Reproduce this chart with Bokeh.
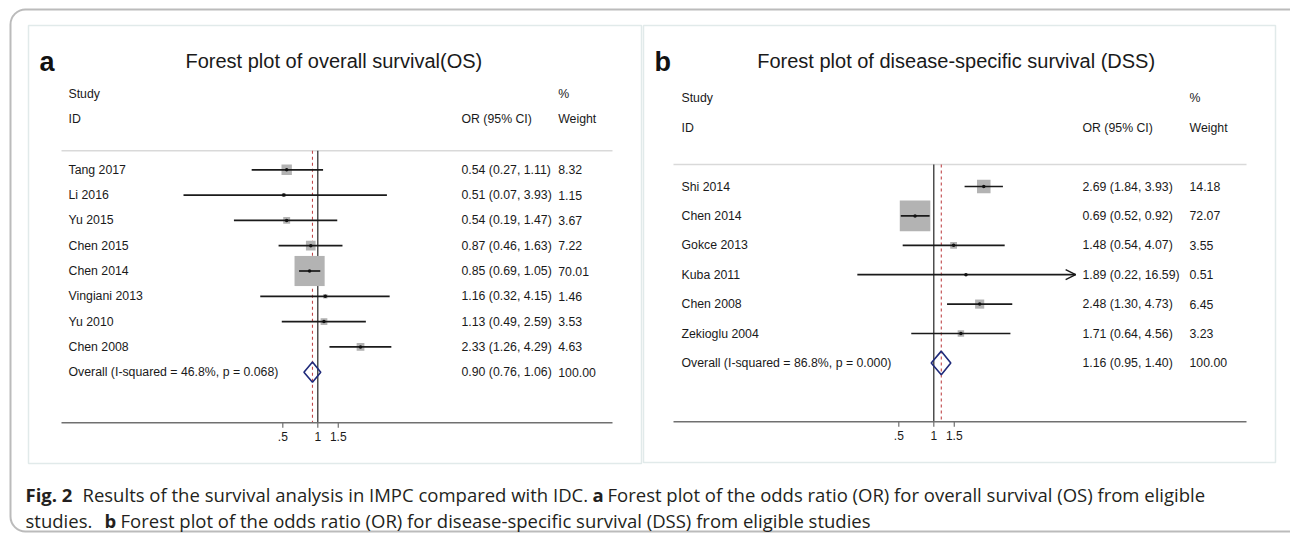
import math
from bokeh.plotting import figure
from bokeh.models import Range1d, LogScale, BoxAnnotation, Arrow, OpenHead
from bokeh.core.properties import value
from bokeh.embed import file_html
from bokeh.resources import INLINE

# ---------------- data ----------------
os_studies = ["Tang 2017", "Li 2016", "Yu 2015", "Chen 2015", "Chen 2014",
              "Vingiani 2013", "Yu 2010", "Chen 2008"]
os_or = [0.54, 0.51, 0.54, 0.87, 0.85, 1.16, 1.13, 2.33]
os_lo = [0.27, 0.07, 0.19, 0.46, 0.69, 0.32, 0.49, 1.26]
os_hi = [1.11, 3.93, 1.47, 1.63, 1.05, 4.15, 2.59, 4.29]
os_w = [8.32, 1.15, 3.67, 7.22, 70.01, 1.46, 3.53, 4.63]
os_overall = [0.90, 0.76, 1.06]
os_overall_label = "Overall (I-squared = 46.8%, p = 0.068)"
os_arrow = [False] * 8

dss_studies = ["Shi 2014", "Chen 2014", "Gokce 2013", "Kuba 2011", "Chen 2008",
               "Zekioglu 2004"]
dss_or = [2.69, 0.69, 1.48, 1.89, 2.48, 1.71]
dss_lo = [1.84, 0.52, 0.54, 0.22, 1.30, 0.64]
dss_hi = [3.93, 0.92, 4.07, 16.59, 4.73, 4.56]
dss_w = [14.18, 72.07, 3.55, 0.51, 6.45, 3.23]
dss_overall = [1.16, 0.95, 1.40]
dss_overall_label = "Overall (I-squared = 86.8%, p = 0.000)"
dss_arrow = [False, False, False, True, False, False]

tick_values = [0.5, 1, 1.5]
tick_labels = [".5", "1", "1.5"]

# ---------------- figure ----------------
W, H = 1290, 534
X0, Y0 = 0, 0  # data units of the default ranges = screenshot pixels
p = figure(width=W, height=H, output_backend="svg", toolbar_location=None,
           x_range=Range1d(X0, X0 + W), y_range=Range1d(Y0 + H, Y0),
           x_axis_location=None, y_axis_location=None, min_border=0)
p.outline_line_color = None
p.xgrid.visible = False
p.ygrid.visible = False
p.background_fill_color = "white"
p.border_fill_color = "white"

FONT = value("Liberation Sans")
CAPFONT = value("Open Sans")
K = 50.5  # pixels per ln unit of the OR axis

p.extra_x_ranges = {}
p.extra_x_scales = {}
p.extra_y_ranges = {}


def setup_ranges(name, x_one, row0, dy):
    p.extra_x_ranges[name] = Range1d(math.exp((X0 - x_one) / K), math.exp((X0 + W - x_one) / K))
    p.extra_x_scales[name] = LogScale()
    p.extra_y_ranges[name] = Range1d((Y0 + H - row0) / dy, (Y0 - row0) / dy)


def panel(name, letter, title, x_one, row0, dy, studies, est, lo, hi, wt,
          overall, overall_label, arrows, lab_x, ci_x, w_x, ax0, ax1,
          letter_x, title_x, box):
    setup_ranges(name, x_one, row0, dy)
    n = len(studies)
    rows = list(range(n))
    orow = n
    axrow = n + 2
    hdr_row = -0.75
    kw = dict(x_range_name=name, y_range_name=name)
    kwy = dict(y_range_name=name)

    # panel box
    p.quad(left=[box[0]], right=[box[1]], top=[box[2]], bottom=[box[3]],
           fill_color=None, line_color="#e1eaea", line_width=1.5)

    # titles
    p.text(x=[letter_x], y=[61], text=[letter], text_font=FONT, text_font_size="27px",
           text_font_style="bold", text_color="#111111", text_baseline="alphabetic")
    p.text(x=[title_x], y=[60], text=[title], text_font=FONT, text_font_size="20px",
           text_color="#1a1a1a", text_baseline="alphabetic")

    # header
    p.text(x=[lab_x, lab_x], y=[-3, -2], text=["Study", "ID"], text_font=FONT,
           text_font_size="12.3px", text_color="#1a1a1a", text_baseline="middle", **kwy)
    p.text(x=[w_x, ci_x, w_x], y=[-3, -2, -2], text=["%", "OR (95% CI)", "Weight"],
           text_font=FONT, text_font_size="12.3px", text_color="#1a1a1a",
           text_baseline="middle", **kwy)
    p.segment(x0=[ax0], x1=[ax1], y0=[hdr_row], y1=[hdr_row], line_color="#d9d9d9",
              line_width=1.5, **kwy)

    # reference lines
    p.segment(x0=[1], x1=[1], y0=[hdr_row], y1=[axrow], line_color="#222222",
              line_width=1.2, **kw)
    p.segment(x0=[overall[0]], x1=[overall[0]], y0=[hdr_row], y1=[axrow],
              line_color="#c0474a", line_width=1.1, line_dash="3 3", **kw)

    # boxes, CIs, points
    sizes = [3.6 * math.sqrt(w) for w in wt]
    p.scatter(x=est, y=rows, size=sizes, marker="square", fill_color="#b3b3b3",
              line_color=None, **kw)
    p.segment(x0=lo, x1=hi, y0=rows, y1=rows, line_color="#1a1a1a", line_width=1.7, **kw)
    p.scatter(x=est, y=rows, size=3.5, marker="circle", fill_color="#111111",
              line_color=None, **kw)
    for i, a in enumerate(arrows):
        if a:
            p.add_layout(Arrow(x_start=lo[i], x_end=hi[i], y_start=rows[i], y_end=rows[i],
                               line_alpha=0,
                               end=OpenHead(size=10, line_width=1.4, line_color="#1a1a1a"),
                               **kw))

    # overall diamond
    est_o, lo_o, hi_o = overall
    p.patch(x=[lo_o, est_o, hi_o, est_o], y=[orow, orow - 0.4, orow, orow + 0.4],
            fill_color=None, line_color="#1f2a7a", line_width=1.6, **kw)

    # text columns
    labels = studies + [overall_label]
    ci_txt = [f"{e:.2f} ({l:.2f}, {h:.2f})" for e, l, h in zip(est, lo, hi)]
    ci_txt.append(f"{est_o:.2f} ({lo_o:.2f}, {hi_o:.2f})")
    w_txt = [f"{w:.2f}" for w in wt] + ["100.00"]
    all_rows = rows + [orow]
    for xs, txt in ((lab_x, labels), (ci_x, ci_txt), (w_x, w_txt)):
        p.text(x=[xs] * (n + 1), y=all_rows, text=txt, text_font=FONT,
               text_font_size="12.3px", text_color="#1a1a1a", text_baseline="middle", **kwy)

    # x axis
    p.segment(x0=[ax0], x1=[ax1], y0=[axrow], y1=[axrow], line_color="#707070",
              line_width=1.5, **kwy)
    tl = 5.0 / dy
    p.segment(x0=tick_values, x1=tick_values, y0=[axrow] * 3, y1=[axrow + tl] * 3,
              line_color="#707070", line_width=1.2, **kw)
    p.text(x=tick_values, y=[axrow] * 3, y_offset=9, text=tick_labels, text_font=FONT,
           text_font_size="12px", text_color="#1a1a1a", text_align="center",
           text_baseline="top", **kw)


panel("A", "a", "Forest plot of overall survival(OS)", 317.3, 169.3, 25.3,
      os_studies, os_or, os_lo, os_hi, os_w, os_overall, os_overall_label, os_arrow,
      68, 461, 557.7, 61, 612, 39, 185, (28, 641, 25, 463))
panel("B", "b", "Forest plot of disease-specific survival (DSS)", 933.3, 186, 29.4,
      dss_studies, dss_or, dss_lo, dss_hi, dss_w, dss_overall, dss_overall_label, dss_arrow,
      681, 1082, 1189, 673, 1246, 654, 756.7, (643, 1275, 25, 462))

# outer rounded frame
p.add_layout(BoxAnnotation(left=10, right=1330, top=9, bottom=531, fill_color=None,
                           fill_alpha=0, line_color="#1e1e1e", line_width=2,
                           border_radius=15))

# caption
cap = [
    ("Fig. 2", "bold", 25, 494),
    ("Results of the survival analysis in IMPC compared with IDC.", "normal", 82, 494),
    ("a", "bold", 592, 494),
    ("Forest plot of the odds ratio (OR) for overall survival (OS) from eligible", "normal", 607, 494),
    ("studies.", "normal", 25, 520),
    ("b", "bold", 104, 520),
    ("Forest plot of the odds ratio (OR) for disease-specific survival (DSS) from eligible studies", "normal", 120, 520),
]
for t, st, x, y in cap:
    p.text(x=[x], y=[y], text=[t], text_font=CAPFONT, text_font_size="18.5px",
           text_font_style=st, text_color="#231f20", text_baseline="alphabetic")

open("out.html", "w").write(file_html(p, INLINE))
